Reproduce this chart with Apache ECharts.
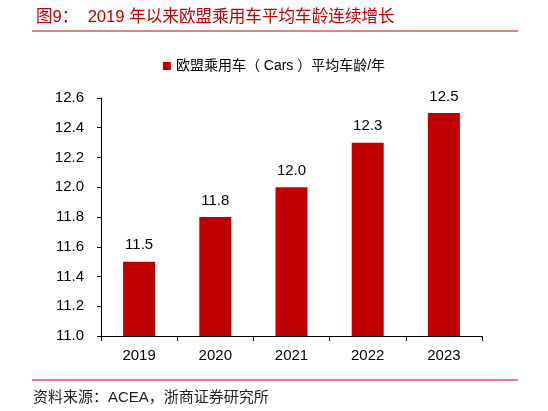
<!DOCTYPE html>
<html><head><meta charset="utf-8">
<script src="https://cdn.jsdelivr.net/npm/echarts@6/dist/echarts.min.js"></script>
<style>html,body{margin:0;padding:0;background:#fff}#c{width:548px;height:411px}</style>
</head><body><div id="c"></div>
<script>
const categories = ['2019','2020','2021','2022','2023'];
const values = [11.5, 11.8, 12.0, 12.3, 12.5];
const seriesName = '欧盟乘用车（ Cars ）平均车龄/年';
const titleText = '图9：  2019 年以来欧盟乘用车平均车龄连续增长';
const sourceText = '资料来源：ACEA，浙商证券研究所';
const font = '"Liberation Sans", Arial, "Noto Sans CJK SC", sans-serif';
const chart = echarts.init(document.getElementById('c'));
chart.setOption({
  animation: false,
  title: {text: titleText, left: 31, top: 4, textStyle: {color: '#C00000', fontSize: 16.6, fontWeight: 'normal', fontFamily: font}},
  legend: {data: [seriesName], top: 54, left: 'center', itemWidth: 8, itemHeight: 8, itemGap: 4,
    icon: 'rect', textStyle: {fontSize: 14, color: '#000', fontFamily: font}},
  grid: {left: 101, right: 66, top: 98, bottom: 75},
  xAxis: {type: 'category', data: categories,
    axisLine: {lineStyle: {color: '#000'}}, axisTick: {show: true, length: 5, lineStyle: {color: '#000'}},
    axisLabel: {fontSize: 15, color: '#000', margin: 12, fontFamily: font}},
  yAxis: {type: 'value', min: 11.0, max: 12.6, interval: 0.2,
    axisLine: {show: true, lineStyle: {color: '#000'}}, axisTick: {show: true, length: 4, lineStyle: {color: '#000'}},
    splitLine: {show: false},
    axisLabel: {fontSize: 15, color: '#000', margin: 17, fontFamily: font, formatter: v => v.toFixed(1)}},
  series: [{name: seriesName, type: 'bar', data: values, barWidth: '42%',
    itemStyle: {color: '#C00000'},
    label: {show: true, position: 'top', distance: 9, fontSize: 15, color: '#000', fontFamily: font, formatter: p => p.value.toFixed(1)}}],
  graphic: [
    {type: 'line', shape: {x1: 32, y1: 31, x2: 518, y2: 31}, style: {stroke: '#C00000', lineWidth: 1}},
    {type: 'line', shape: {x1: 32, y1: 380, x2: 518, y2: 380}, style: {stroke: '#C00000', lineWidth: 1}},
    {type: 'text', left: 33, top: 390, style: {text: sourceText, fontSize: 15, fill: '#222', fontFamily: font}}
  ]
});
</script></body></html>
